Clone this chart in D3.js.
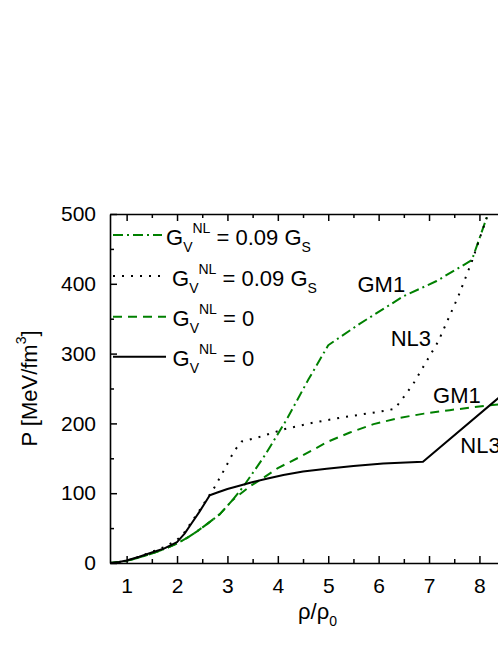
<!DOCTYPE html>
<html>
<meta charset="utf-8">
<title>P vs rho</title>
<style>
body { margin: 0; background: #fff; }
text { font-family: "Liberation Sans", Arial, sans-serif; fill: #000; }
</style>
<body>
<svg id="chart" width="498" height="645"></svg>
<script src="https://cdn.jsdelivr.net/npm/d3@7"></script>
<script>
// curves: [rho/rho0, P]
var nl3Zero = [[0.67,0],[0.85,1.5],[1,3.5],[1.25,9],[1.5,15],[1.75,21],[2,30],[2.15,42],[2.3,58],[2.45,74],[2.65,97],[2.8,101],[3.0,106],[3.2,110],[3.45,115],[3.8,121],[4.11,126],[4.5,131],[4.97,135],[5.5,139],[6.09,142.5],[6.88,145],[8.6,250]];
var nl3Gv = [[0.67,0],[0.85,1.5],[1,3.5],[1.25,9],[1.5,16],[1.75,23],[2,33],[2.15,44],[2.3,60],[2.45,76],[2.65,98],[2.74,108],[2.94,134],[3.13,160],[3.28,174],[3.61,180],[4.14,192],[4.7,201],[5.23,208],[6.12,218],[6.32,221],[6.5,238],[6.69,257],[7.18,317],[7.58,382],[7.85,432],[8.17,500]];
var gm1Zero = [[0.67,0],[0.85,1.3],[1,3],[1.25,8],[1.5,13.5],[1.75,20],[2,28],[2.2,36],[2.39,45],[2.6,56],[2.85,70],[3.1,90],[3.45,110],[3.65,119],[4.0,136],[4.44,152],[5.0,174],[5.43,187],[5.9,199],[6.42,208],[6.9,214],[7.41,219],[8.21,226],[8.6,229]];
var gm1Gv = [[0.67,0],[0.85,1.3],[1,3],[1.25,8],[1.5,13.5],[1.75,20],[2,28],[2.2,36],[2.39,45],[2.6,56],[2.85,70],[3.1,90],[3.31,109],[3.58,137],[3.74,154],[4.17,205],[4.6,262],[5.0,312],[5.63,343],[6.49,382],[7.15,404],[7.85,434],[8.17,500],[8.3,530]];

var xTicks = [1,2,3,4,5,6,7,8];
var yTicks = [0,100,200,300,400,500];
var legendNames = ["0.09", "0.09", "0", "0"];
var curveLabels = [
  {text: "GM1", x: 5.58, y: 388},
  {text: "NL3", x: 6.24, y: 311},
  {text: "GM1", x: 7.08, y: 229},
  {text: "NL3", x: 7.62, y: 157}
];

var svg = d3.select("#chart");
var plotLeft = 110, plotTop = 214, plotBottom = 563;

var x = d3.scaleLinear().domain([0.67, 8.5]).range([plotLeft, plotLeft + 7.83 * 50.4]);
var y = d3.scaleLinear().domain([0, 500]).range([plotBottom, plotTop]);

svg.append("clipPath").attr("id", "plotclip")
  .append("rect").attr("x", plotLeft).attr("y", plotTop).attr("width", 500).attr("height", plotBottom - plotTop);

var green = "#008000";
var series = [
  {data: gm1Gv, color: green, dash: "10,4,2,4"},
  {data: nl3Gv, color: "#000", dash: "2,7"},
  {data: gm1Zero, color: green, dash: "9,6"},
  {data: nl3Zero, color: "#000", dash: null}
];

var line = d3.line().x(function(d){ return x(d[0]); }).y(function(d){ return y(d[1]); });

var plot = svg.append("g").attr("clip-path", "url(#plotclip)");
series.forEach(function(s){
  plot.append("path")
    .attr("d", line(s.data))
    .attr("fill", "none")
    .attr("stroke", s.color)
    .attr("stroke-width", 2)
    .attr("stroke-linejoin", "round")
    .attr("stroke-dasharray", s.dash);
});

// axes: ticks point inward, mirror on top
var xMinor = d3.range(1.5, 8.6, 1);
var yMinor = d3.range(50, 500, 100);

function styleTicks(g) {
  g.select(".domain").attr("stroke-width", 1.6);
  g.selectAll(".tick line").attr("stroke-width", 1.5);
}
function minorTicks(g) {
  g.select(".domain").remove();
  g.selectAll(".tick line").attr("stroke-width", 1.5);
}

svg.append("g").attr("transform", "translate(0," + plotBottom + ")")
  .call(d3.axisBottom(x).tickValues(xTicks).tickSize(-7).tickSizeOuter(0).tickPadding(12))
  .call(styleTicks)
  .call(function(g){ g.selectAll("text").attr("font-size", 21).attr("dy", "0.85em").attr("fill", "#000"); });
svg.append("g").attr("transform", "translate(0," + plotBottom + ")")
  .call(d3.axisBottom(x).tickValues(xMinor).tickSize(-4).tickFormat(""))
  .call(minorTicks);

svg.append("g").attr("transform", "translate(0," + plotTop + ")")
  .call(d3.axisTop(x).tickValues(xTicks).tickSize(-7).tickSizeOuter(0).tickFormat(""))
  .call(styleTicks);
svg.append("g").attr("transform", "translate(0," + plotTop + ")")
  .call(d3.axisTop(x).tickValues(xMinor).tickSize(-4).tickFormat(""))
  .call(minorTicks);

svg.append("g").attr("transform", "translate(" + plotLeft + ",0)")
  .call(d3.axisLeft(y).tickValues(yTicks).tickSize(-7).tickSizeOuter(0).tickPadding(14))
  .call(styleTicks)
  .call(function(g){ g.selectAll("text").attr("font-size", 21).attr("fill", "#000"); });
svg.append("g").attr("transform", "translate(" + plotLeft + ",0)")
  .call(d3.axisLeft(y).tickValues(yMinor).tickSize(-4).tickFormat(""))
  .call(minorTicks);

// axis titles
var yt = svg.append("text")
  .attr("transform", "translate(37," + ((plotTop + plotBottom) / 2) + ") rotate(-90)")
  .attr("text-anchor", "middle").attr("font-size", 22);
yt.append("tspan").text("P [MeV/fm");
yt.append("tspan").attr("font-size", 14).attr("dy", -11).text("3");
yt.append("tspan").attr("dy", 11).text("]");

var xt = svg.append("text").attr("x", 298).attr("y", 619).attr("font-size", 22);
xt.append("tspan").text("ρ/ρ");
xt.append("tspan").attr("font-size", 14).attr("dy", 7).text("0");

// legend
var legendY = [235, 276, 316.7, 356.7];
var legendTextX = [166, 172, 172.5, 172.5];
series.forEach(function(s, i){
  var ly = legendY[i];
  svg.append("line")
    .attr("x1", 113).attr("x2", i < 2 ? 162 : 166)
    .attr("y1", ly).attr("y2", ly)
    .attr("stroke", s.color).attr("stroke-width", 2)
    .attr("stroke-dasharray", s.dash);
  var t = svg.append("text").attr("x", legendTextX[i]).attr("y", ly + 9.5).attr("font-size", 22);
  t.append("tspan").text("G");
  t.append("tspan").attr("font-size", 14).attr("dy", 7).text("V");
  t.append("tspan").attr("font-size", 14).attr("dy", -19).text("NL");
  if (legendNames[i] == "0") {
    t.append("tspan").attr("dy", 12).text(" = 0");
  } else {
    t.append("tspan").attr("dy", 12).text(" = " + legendNames[i] + " G");
    t.append("tspan").attr("font-size", 14).attr("dy", 7).text("S");
  }
});

// curve labels
curveLabels.forEach(function(c){
  svg.append("text").attr("x", x(c.x)).attr("y", y(c.y)).attr("font-size", 22).text(c.text);
});
</script>
</body>
</html>
